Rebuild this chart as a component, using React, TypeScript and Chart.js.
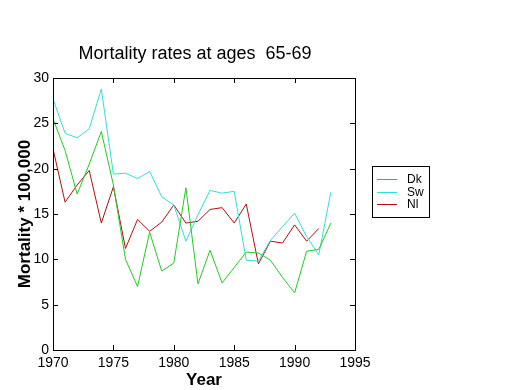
import React, { useEffect, useRef } from "react";
import { Chart, registerables } from "chart.js";

Chart.register(...registerables);

const years = [1970, 1971, 1972, 1973, 1974, 1975, 1976, 1977, 1978, 1979, 1980, 1981, 1982, 1983, 1984, 1985, 1986, 1987, 1988, 1989, 1990, 1991, 1992, 1993];
const dk = [25.5, 22.0, 17.2, 20.5, 24.1, 18.2, 10.0, 7.0, 13.0, 8.7, 9.6, 17.9, 7.3, 11.0, 7.4, 9.1, 10.8, 10.7, 9.9, 8.0, 6.3, 10.9, 11.1, 14.0];
const sw = [27.7, 23.9, 23.4, 24.4, 28.8, 19.4, 19.5, 18.9, 19.7, 16.9, 16.0, 12.0, 14.9, 17.6, 17.3, 17.5, 9.9, 9.8, 12.1, 13.6, 15.1, 12.5, 10.5, 17.4];
const nl = [22.2, 16.3, 18.2, 19.8, 14.0, 18.0, 11.2, 14.4, 13.1, 14.1, 16.0, 14.0, 14.2, 15.5, 15.7, 14.0, 16.1, 9.5, 12.0, 11.8, 13.8, 12.0, 13.4, null];
const seriesNames = ["Dk", "Sw", "Nl"];
const seriesColors = ["#22cc22", "#33dddd", "#b01010"];
const titleText = "Mortality rates at ages  65-69";
const xTitle = "Year";
const yTitle = "Mortality * 100,000";

const FONT = "'Liberation Sans', Arial, sans-serif";

const decorPlugin = {
  id: "decor",
  afterDraw(chart: any) {
    const { ctx, chartArea, scales } = chart;
    const { left, right, top, bottom } = chartArea;
    ctx.save();
    ctx.strokeStyle = "#000";
    ctx.lineWidth = 1;
    // box
    ctx.strokeRect(Math.round(left) + 0.5, Math.round(top) + 0.5, Math.round(right - left), Math.round(bottom - top));
    const tl = 5;
    ctx.beginPath();
    scales.x.ticks.forEach((t: any) => {
      const px = Math.round(scales.x.getPixelForValue(t.value)) + 0.5;
      ctx.moveTo(px, bottom);
      ctx.lineTo(px, bottom - tl);
      ctx.moveTo(px, top);
      ctx.lineTo(px, top + tl);
    });
    scales.y.ticks.forEach((t: any) => {
      const py = Math.round(scales.y.getPixelForValue(t.value)) + 0.5;
      ctx.moveTo(left, py);
      ctx.lineTo(left + tl, py);
      ctx.moveTo(right, py);
      ctx.lineTo(right - tl, py);
    });
    ctx.stroke();

    // title
    ctx.fillStyle = "#000";
    ctx.font = `18px ${FONT}`;
    ctx.textAlign = "center";
    ctx.textBaseline = "middle";
    ctx.fillText(titleText, 195, 54);

    // axis titles
    ctx.font = `bold 17px ${FONT}`;
    ctx.fillText(xTitle, (left + right) / 2, 380);
    ctx.save();
    ctx.translate(25, (top + bottom) / 2);
    ctx.rotate(-Math.PI / 2);
    ctx.fillText(yTitle, 0, 0);
    ctx.restore();

    // legend
    const lx = 372, ly = 166, lw = 57, lh = 51;
    ctx.fillStyle = "#fff";
    ctx.fillRect(lx, ly, lw, lh);
    ctx.strokeRect(lx + 0.5, ly + 0.5, lw, lh);
    ctx.font = `12px ${FONT}`;
    ctx.textAlign = "left";
    chart.data.datasets.forEach((ds: any, i: number) => {
      const y = 179 + i * 12.5;
      ctx.strokeStyle = ds.borderColor;
      ctx.beginPath();
      ctx.moveTo(377, Math.round(y) + 0.5);
      ctx.lineTo(397, Math.round(y) + 0.5);
      ctx.stroke();
      ctx.fillStyle = "#000";
      ctx.fillText(ds.label, 407, y + 1);
    });
    ctx.restore();
  },
};

export default function App() {
  const ref = useRef<HTMLCanvasElement>(null);
  useEffect(() => {
    if (!ref.current) return;
    const all = [dk, sw, nl];
    const chart = new Chart(ref.current, {
      type: "line",
      data: {
        datasets: all.map((arr, i) => ({
          label: seriesNames[i],
          data: years.map((y, j) => ({ x: y, y: arr[j] })).filter((p) => p.y !== null) as any,
          borderColor: seriesColors[i],
          backgroundColor: seriesColors[i],
          borderWidth: 1,
          pointRadius: 0,
          tension: 0,
          fill: false,
        })),
      },
      options: {
        animation: false,
        responsive: false,
        maintainAspectRatio: false,
        layout: { padding: { left: 0, top: 78, right: 165, bottom: 0 } },
        plugins: { legend: { display: false }, title: { display: false }, tooltip: { enabled: false } },
        scales: {
          x: {
            type: "linear",
            min: 1970,
            max: 1995,
            ticks: { stepSize: 5, color: "#000", font: { family: FONT, size: 14 }, padding: 5, maxRotation: 0, callback: (v: any) => String(v) },
            grid: { display: false, drawTicks: false },
            border: { display: false },
            afterFit: (s: any) => { s.height = 40; },
          },
          y: {
            type: "linear",
            min: 0,
            max: 30,
            ticks: { stepSize: 5, color: "#000", font: { family: FONT, size: 14 }, padding: 4 },
            grid: { display: false, drawTicks: false },
            border: { display: false },
            afterFit: (s: any) => { s.width = 53; },
          },
        },
      },
      plugins: [decorPlugin],
    });
    return () => chart.destroy();
  }, []);
  return (
    <div style={{ position: "fixed", left: 0, top: 0, width: 520, height: 390, background: "#fff" }}>
      <canvas ref={ref} width={520} height={390} style={{ width: 520, height: 390, display: "block" }} />
    </div>
  );
}
